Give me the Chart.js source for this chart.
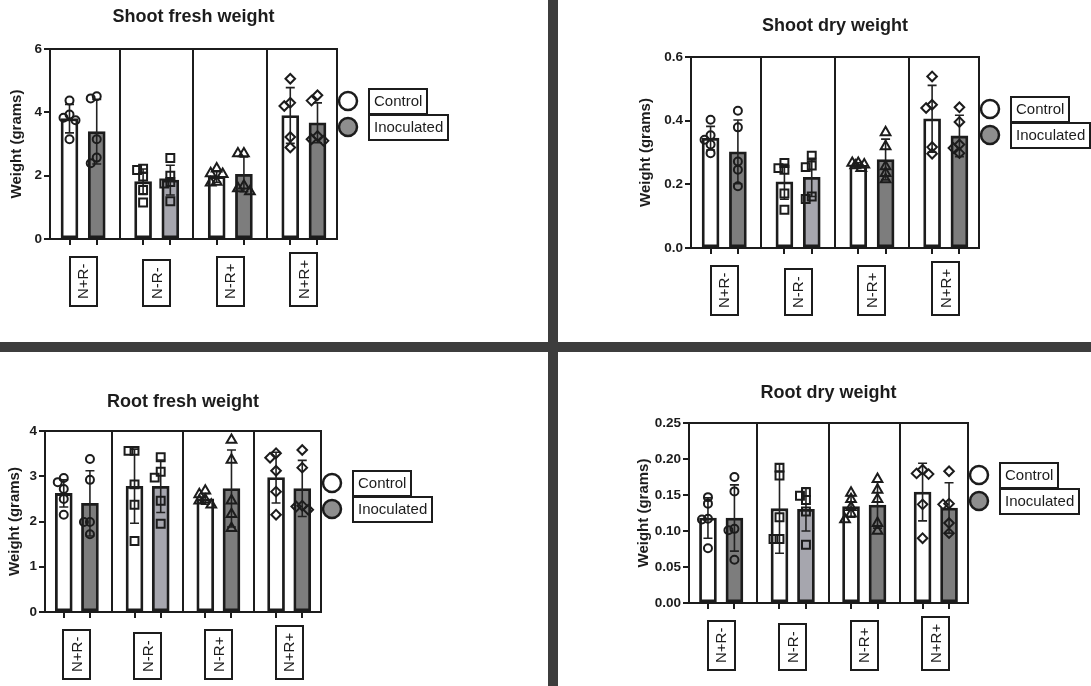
<!DOCTYPE html>
<html>
<head>
<meta charset="utf-8">
<script src="https://cdn.jsdelivr.net/npm/chart.js@4.4.1/dist/chart.umd.min.js"></script>
<style>
  html, body { margin: 0; padding: 0; background: #fff; }
  #wrap { position: relative; width: 1091px; height: 686px; overflow: hidden; background: #fff; }
  canvas { position: absolute; }
  .divider { position: absolute; background: #3d3d3d; }
</style>
</head>
<body>
<div id="wrap">
  <canvas id="shootFresh" width="548" height="342" style="left:0;top:0"></canvas>
  <canvas id="shootDry" width="533" height="342" style="left:558px;top:0"></canvas>
  <canvas id="rootFresh" width="548" height="334" style="left:0;top:352px"></canvas>
  <canvas id="rootDry" width="533" height="334" style="left:558px;top:352px"></canvas>
  <div class="divider" style="left:548px;top:0;width:10px;height:686px"></div>
  <div class="divider" style="left:0;top:342px;width:1091px;height:10px"></div>
</div>
<script>
// Shared labels
const categories = ['N+R-', 'N-R-', 'N-R+', 'N+R+'];
const seriesNames = ['Control', 'Inoculated'];
const yTitle = 'Weight (grams)';

// Shoot fresh weight
const shootFreshTicks = [0, 2, 4, 6];
const shootFreshCtrlMean = [3.80, 1.81, 1.97, 3.90];
const shootFreshCtrlSd = [0.45, 0.40, 0.18, 0.88];
const shootFreshInocMean = [3.39, 1.86, 2.04, 3.67];
const shootFreshInocSd = [1.02, 0.47, 0.55, 0.63];
const shootFreshCtrlPts = [[4.37, 3.93, 3.83, 3.75, 3.15], [2.22, 2.18, 1.97, 1.55, 1.15], [2.22, 2.07, 2.05, 1.80, 1.78], [5.06, 4.30, 4.20, 3.22, 2.89]];
const shootFreshInocPts = [[4.51, 4.44, 3.15, 2.57, 2.39], [2.56, 2.00, 1.80, 1.75, 1.19], [2.70, 2.70, 1.68, 1.60, 1.50], [4.54, 4.37, 3.25, 3.15, 3.10]];

// Shoot dry weight
const shootDryTicks = [0, 0.2, 0.4, 0.6];
const shootDryCtrlMean = [0.345, 0.208, 0.260, 0.406];
const shootDryCtrlSd = [0.037, 0.055, 0.008, 0.105];
const shootDryInocMean = [0.302, 0.222, 0.278, 0.352];
const shootDryInocSd = [0.100, 0.060, 0.064, 0.065];
const shootDryCtrlPts = [[0.403, 0.354, 0.340, 0.325, 0.298], [0.267, 0.251, 0.246, 0.171, 0.120], [0.267, 0.267, 0.262, 0.259, 0.251], [0.539, 0.450, 0.440, 0.317, 0.296]];
const shootDryInocPts = [[0.431, 0.379, 0.272, 0.246, 0.194], [0.290, 0.259, 0.254, 0.162, 0.154], [0.363, 0.319, 0.256, 0.235, 0.215], [0.442, 0.396, 0.325, 0.314, 0.298]];

// Root fresh weight
const rootFreshTicks = [0, 1, 2, 3, 4];
const rootFreshCtrlMean = [2.62, 2.78, 2.50, 2.97];
const rootFreshCtrlSd = [0.30, 0.82, 0.12, 0.56];
const rootFreshInocMean = [2.40, 2.78, 2.73, 2.73];
const rootFreshInocSd = [0.72, 0.58, 0.85, 0.62];
const rootFreshCtrlPts = [[2.96, 2.87, 2.72, 2.50, 2.15], [3.56, 3.56, 2.82, 2.37, 1.57], [2.68, 2.60, 2.48, 2.46, 2.37], [3.51, 3.41, 3.12, 2.66, 2.15]];
const rootFreshInocPts = [[3.38, 2.92, 1.99, 1.99, 1.72], [3.42, 3.10, 2.97, 2.46, 1.95], [3.80, 3.36, 2.46, 2.16, 1.85], [3.58, 3.19, 2.35, 2.33, 2.26]];

// Root dry weight
const rootDryTicks = [0, 0.05, 0.10, 0.15, 0.20, 0.25];
const rootDryCtrlMean = [0.118, 0.131, 0.134, 0.154];
const rootDryCtrlSd = [0.028, 0.062, 0.015, 0.040];
const rootDryInocMean = [0.118, 0.130, 0.136, 0.132];
const rootDryInocSd = [0.046, 0.030, 0.032, 0.035];
const rootDryCtrlPts = [[0.147, 0.138, 0.117, 0.116, 0.076], [0.188, 0.177, 0.119, 0.089, 0.089], [0.153, 0.144, 0.133, 0.124, 0.116], [0.185, 0.180, 0.179, 0.137, 0.090]];
const rootDryInocPts = [[0.175, 0.155, 0.103, 0.101, 0.060], [0.154, 0.149, 0.143, 0.127, 0.081], [0.172, 0.157, 0.144, 0.111, 0.100], [0.183, 0.138, 0.137, 0.111, 0.097]];

// Styling
const FONT = '"Liberation Sans", Arial, Helvetica, sans-serif';
const INK = '#1c1c1c';
const TITLE_SIZE = 18, AXIS_TITLE_SIZE = 15, TICK_SIZE = 13.5;
const markers = ['circle', 'rect', 'triangle', 'rectRot'];
const markerRadius = { circle: 4, rect: 5.6, triangle: 5.6, rectRot: 4.8 };
const ctrlFill = '#ffffff';
const inocFill = ['#7d7d7d', '#a6a6ae', '#7d7d7d', '#7d7d7d'];
const legendFill = ['#ffffff', '#8e8e8e'];
const X_MIN = -0.45, X_MAX = 3.45, BAR_OFF = 0.185;

Chart.defaults.font.family = FONT;
Chart.defaults.color = INK;
Chart.defaults.animation = false;

const barX = (g, s) => g + (s === 0 ? -BAR_OFF : BAR_OFF);

// small swarm: points that sit on top of each other get pushed sideways a little
function swarmOffsets(vals, pxPerUnit, groupPx) {
  const placed = [];
  const cands = [0, -6, 6, -3, 3];
  return vals.map(v => {
    const yp = v * pxPerUnit;
    let best = 0, bestGap = -1;
    for (const c of cands) {
      const gap = placed.length ? Math.min(...placed.map(p => Math.hypot(p.x - c, p.y - yp))) : Infinity;
      if (gap >= 6) { best = c; bestGap = gap; break; }
      if (gap > bestGap) { best = c; bestGap = gap; }
    }
    placed.push({ x: best, y: yp });
    return best / groupPx;
  });
}

const panelDecor = {
  id: 'panelDecor',
  beforeDatasetsDraw(chart) {
    const { ctx, chartArea: a, scales: { x } } = chart;
    ctx.save();
    ctx.strokeStyle = INK;
    ctx.lineWidth = 2;
    for (let g = 0; g < categories.length - 1; g++) {
      const px = Math.round(x.getPixelForValue(g + 0.5));
      ctx.beginPath();
      ctx.moveTo(px, a.top);
      ctx.lineTo(px, a.bottom);
      ctx.stroke();
    }
    ctx.strokeRect(a.left, a.top, a.right - a.left, a.bottom - a.top);
    ctx.restore();
  },
  afterDatasetDraw(chart, args) {
    if (args.meta.type !== 'bar') return;
    const ds = chart.data.datasets[args.index];
    const { ctx, scales: { y } } = chart;
    ctx.save();
    ctx.strokeStyle = '#222';
    ctx.lineWidth = 1.6;
    args.meta.data.forEach((el, i) => {
      const m = ds.data[i].y, sd = ds.errors[i];
      const top = y.getPixelForValue(m + sd), bot = y.getPixelForValue(m - sd);
      ctx.beginPath();
      ctx.moveTo(el.x, top); ctx.lineTo(el.x, bot);
      ctx.moveTo(el.x - 4.5, top); ctx.lineTo(el.x + 4.5, top);
      ctx.moveTo(el.x - 4.5, bot); ctx.lineTo(el.x + 4.5, bot);
      ctx.stroke();
    });
    ctx.restore();
  },
  afterDraw(chart) {
    const { ctx, chartArea: a, scales: { x } } = chart;
    ctx.save();
    ctx.strokeStyle = INK;
    ctx.fillStyle = INK;
    ctx.lineWidth = 2;
    ctx.font = '15px ' + FONT;
    // boxed category labels
    categories.forEach((c, g) => {
      const cx = x.getPixelForValue(g);
      const bh = ctx.measureText(c).width + 14, bw = 27;
      const bottom = a.bottom + 67;
      ctx.strokeRect(Math.round(cx - bw / 2), Math.round(bottom - bh), bw, Math.round(bh));
      ctx.save();
      ctx.translate(cx, bottom - bh / 2);
      ctx.rotate(-Math.PI / 2);
      ctx.textAlign = 'center';
      ctx.textBaseline = 'middle';
      ctx.fillText(c, 0, 1);
      ctx.restore();
    });
    // legend
    seriesNames.forEach((name, s) => {
      const cy = a.top + 52 + s * 26;
      const cx = a.right + 11;
      ctx.beginPath();
      ctx.arc(cx, cy, 9, 0, Math.PI * 2);
      ctx.fillStyle = legendFill[s];
      ctx.fill();
      ctx.lineWidth = 2.5;
      ctx.stroke();
      const tw = ctx.measureText(name).width;
      ctx.lineWidth = 2;
      ctx.strokeRect(Math.round(a.right + 32), Math.round(cy - 12), Math.round(tw + 10), 25);
      ctx.fillStyle = INK;
      ctx.textAlign = 'left';
      ctx.textBaseline = 'middle';
      ctx.fillText(name, a.right + 37, cy + 1);
    });
    ctx.restore();
  }
};

function buildPanel(id, p) {
  const canvas = document.getElementById(id);
  const W = canvas.width, H = canvas.height;
  const a = p.area;
  const padLeft = p.yTitleX - (AXIS_TITLE_SIZE * 1.2 / 2 + 4);
  const padTop = p.titleY - TITLE_SIZE * 1.2 / 2;
  const titleGap = a.top - padTop - TITLE_SIZE * 1.2;
  const xAxisH = 10;
  const yMax = p.ticks[p.ticks.length - 1];
  const groupPx = (a.right - a.left) / (X_MAX - X_MIN);
  const pxPerUnit = (a.bottom - a.top) / yMax;
  const barPositions = categories.flatMap((c, g) => [barX(g, 0), barX(g, 1)]);

  const pointData = (pts, s) => pts.flatMap((vals, g) => {
    const offs = swarmOffsets(vals, pxPerUnit, groupPx);
    return vals.map((v, k) => ({ x: barX(g, s) + offs[k], y: v, g }));
  });
  const pointStyle = {
    pointStyle: ctx => markers[ctx.raw.g],
    pointRadius: ctx => markerRadius[markers[ctx.raw.g]],
    pointBorderColor: INK,
    pointBorderWidth: 2,
    pointBackgroundColor: 'rgba(0,0,0,0)',
    order: 0
  };
  const barStyle = {
    borderColor: INK, borderWidth: 2.8, borderSkipped: false,
    grouped: false, maxBarThickness: 17, barPercentage: 1, categoryPercentage: 1, order: 1
  };

  new Chart(canvas, {
    type: 'bar',
    data: {
      datasets: [
        Object.assign({ type: 'scatter', label: 'Control points', data: pointData(p.ctrlPts, 0) }, pointStyle),
        Object.assign({ type: 'scatter', label: 'Inoculated points', data: pointData(p.inocPts, 1) }, pointStyle),
        Object.assign({ label: seriesNames[0], data: p.ctrlMean.map((m, g) => ({ x: barX(g, 0), y: m })),
          errors: p.ctrlSd, backgroundColor: ctrlFill }, barStyle),
        Object.assign({ label: seriesNames[1], data: p.inocMean.map((m, g) => ({ x: barX(g, 1), y: m })),
          errors: p.inocSd, backgroundColor: inocFill }, barStyle)
      ]
    },
    options: {
      responsive: false,
      events: [],
      layout: { padding: { left: padLeft, right: W - a.right, top: padTop, bottom: H - a.bottom - xAxisH } },
      plugins: {
        legend: { display: false },
        tooltip: { enabled: false },
        title: {
          display: true, text: p.title, fullSize: false, color: INK,
          font: { size: TITLE_SIZE, weight: 'bold' }, padding: { top: 0, bottom: titleGap }
        }
      },
      scales: {
        x: {
          type: 'linear', min: X_MIN, max: X_MAX, offset: false,
          afterBuildTicks: s => { s.ticks = barPositions.map(v => ({ value: v })); },
          afterFit: s => { s.height = xAxisH; },
          ticks: { display: false },
          grid: { offset: false, drawOnChartArea: false, drawTicks: true, tickLength: 6, lineWidth: 2, color: INK },
          border: { display: true, color: INK, width: 2 }
        },
        y: {
          type: 'linear', min: p.ticks[0], max: yMax,
          afterBuildTicks: s => { s.ticks = p.ticks.map(v => ({ value: v })); },
          afterFit: s => { s.width = a.left - padLeft; },
          ticks: { color: INK, padding: 2, font: { size: TICK_SIZE, weight: 'bold' }, callback: v => v.toFixed(p.dec) },
          grid: { drawOnChartArea: false, drawTicks: true, tickLength: 6, lineWidth: 2, color: INK },
          border: { display: true, color: INK, width: 2 },
          title: { display: true, text: yTitle, color: INK, font: { size: AXIS_TITLE_SIZE, weight: 'bold' }, padding: { top: 4, bottom: 4 } }
        }
      }
    },
    plugins: [panelDecor]
  });
}

buildPanel('shootFresh', {
  title: 'Shoot fresh weight', ticks: shootFreshTicks, dec: 0,
  ctrlMean: shootFreshCtrlMean, ctrlSd: shootFreshCtrlSd, inocMean: shootFreshInocMean, inocSd: shootFreshInocSd,
  ctrlPts: shootFreshCtrlPts, inocPts: shootFreshInocPts,
  area: { left: 50, right: 337, top: 49, bottom: 239 }, titleY: 17, yTitleX: 17
});
buildPanel('shootDry', {
  title: 'Shoot dry weight', ticks: shootDryTicks, dec: 1,
  ctrlMean: shootDryCtrlMean, ctrlSd: shootDryCtrlSd, inocMean: shootDryInocMean, inocSd: shootDryInocSd,
  ctrlPts: shootDryCtrlPts, inocPts: shootDryInocPts,
  area: { left: 133, right: 421, top: 57, bottom: 248 }, titleY: 26, yTitleX: 88
});
buildPanel('rootFresh', {
  title: 'Root fresh weight', ticks: rootFreshTicks, dec: 0,
  ctrlMean: rootFreshCtrlMean, ctrlSd: rootFreshCtrlSd, inocMean: rootFreshInocMean, inocSd: rootFreshInocSd,
  ctrlPts: rootFreshCtrlPts, inocPts: rootFreshInocPts,
  area: { left: 45, right: 321, top: 79, bottom: 260 }, titleY: 50, yTitleX: 15
});
buildPanel('rootDry', {
  title: 'Root dry weight', ticks: rootDryTicks, dec: 2,
  ctrlMean: rootDryCtrlMean, ctrlSd: rootDryCtrlSd, inocMean: rootDryInocMean, inocSd: rootDryInocSd,
  ctrlPts: rootDryCtrlPts, inocPts: rootDryInocPts,
  area: { left: 131, right: 410, top: 71, bottom: 251 }, titleY: 41, yTitleX: 86
});
</script>
</body>
</html>
